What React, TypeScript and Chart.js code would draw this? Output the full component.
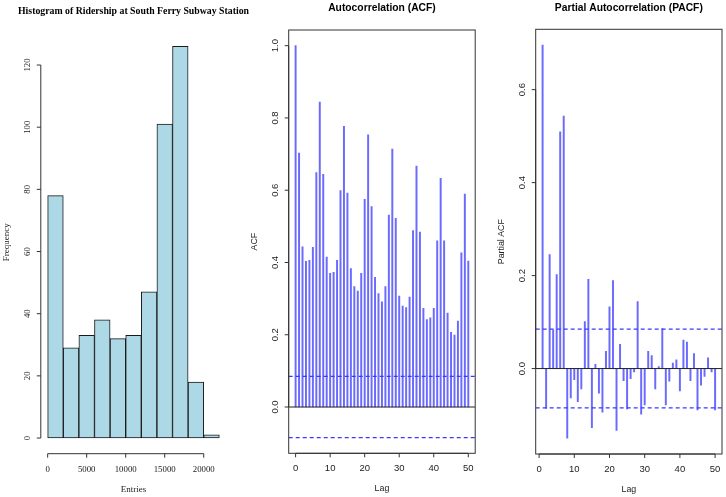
import { useEffect, useRef } from "react";
import { Chart, registerables } from "chart.js";

Chart.register(...registerables);

const W = 726;
const H = 497;

// ---------- Data ----------
const histBreaks = [0, 2000, 4000, 6000, 8000, 10000, 12000, 14000, 16000, 18000, 20000, 22000];
const histCounts = [78, 29, 33, 38, 32, 33, 47, 101, 126, 18, 1];
const histXTicks = [0, 5000, 10000, 15000, 20000];
const histYTicks = [0, 20, 40, 60, 80, 100, 120];

// ACF, lags 0..50
const acfValues = [
  1.0, 0.703, 0.443, 0.403, 0.406, 0.442, 0.649, 0.844, 0.644, 0.415,
  0.370, 0.373, 0.406, 0.599, 0.777, 0.592, 0.383, 0.333, 0.321, 0.370,
  0.575, 0.753, 0.555, 0.359, 0.314, 0.291, 0.333, 0.531, 0.714, 0.522,
  0.307, 0.279, 0.275, 0.304, 0.488, 0.667, 0.484, 0.273, 0.242, 0.247,
  0.273, 0.460, 0.633, 0.460, 0.260, 0.207, 0.199, 0.238, 0.427, 0.589,
  0.404,
];
const acfXTicks = [0, 10, 20, 30, 40, 50];
const acfYTicks = [0, 0.2, 0.4, 0.6, 0.8, 1.0];

// PACF, lags 1..50
const pacfValues = [
  0.696, -0.086, 0.245, 0.083, 0.202, 0.509, 0.543, -0.150, -0.063, -0.024,
  -0.071, -0.044, 0.101, 0.192, -0.127, 0.009, -0.053, -0.094, 0.037, 0.133,
  0.189, -0.133, 0.052, -0.026, -0.087, -0.022, -0.007, 0.144, -0.098, -0.078,
  0.037, 0.028, -0.044, 0.004, 0.086, -0.078, -0.027, 0.012, 0.019, -0.048,
  0.061, 0.057, -0.026, 0.032, -0.089, -0.036, -0.017, 0.023, -0.007, -0.089,
];
const pacfXTicks = [0, 10, 20, 30, 40, 50];
const pacfYTicks = [0, 0.2, 0.4, 0.6];

const confLimit = 0.0847;

// ---------- Panel specs ----------
type Panel = {
  area: { left: number; top: number; right: number; bottom: number };
  xRange: [number, number];
  yRange: [number, number];
  title: string;
  titleFont: string;
  titleY: number;
  tickFont: string;
  labelFont: string;
  xLabel: string;
  yLabel: string;
  xTicks: number[];
  yTicks: number[];
  yFmt: (v: number) => string;
  box: boolean;
  refLines: { value: number; dashed: boolean }[];
};

const SERIF = '"Liberation Serif", "Times New Roman", serif';
const SANS = '"Liberation Sans", Arial, sans-serif';

const histPanel: Panel = {
  area: { left: 40.8, top: 30.7, right: 226.2, bottom: 453.7 },
  xRange: [-880, 22880],
  yRange: [-5.04, 131.04],
  title: "Histogram of Ridership at South Ferry Subway Station",
  titleFont: `bold 9.8px ${SERIF}`,
  titleY: 11.5,
  tickFont: `8.8px ${SERIF}`,
  labelFont: `9px ${SERIF}`,
  xLabel: "Entries",
  yLabel: "Frequency",
  xTicks: histXTicks,
  yTicks: histYTicks,
  yFmt: (v) => String(v),
  box: false,
  refLines: [],
};

const acfPanel: Panel = {
  area: { left: 288.7, top: 30, right: 475.2, bottom: 453.3 },
  xRange: [-2, 52],
  yRange: [-0.1281, 1.0434],
  title: "Autocorrelation (ACF)",
  titleFont: `bold 10.3px ${SANS}`,
  titleY: 8.5,
  tickFont: `9.5px ${SANS}`,
  labelFont: `8.8px ${SANS}`,
  xLabel: "Lag",
  yLabel: "ACF",
  xTicks: acfXTicks,
  yTicks: acfYTicks,
  yFmt: (v) => v.toFixed(1),
  box: true,
  refLines: [
    { value: 0, dashed: false },
    { value: confLimit, dashed: true },
    { value: -confLimit, dashed: true },
  ],
};

const pacfPanel: Panel = {
  area: { left: 535.7, top: 29.3, right: 722, bottom: 454 },
  xRange: [-0.96, 51.96],
  yRange: [-0.1838, 0.7298],
  title: "Partial Autocorrelation (PACF)",
  titleFont: `bold 10.3px ${SANS}`,
  titleY: 8.5,
  tickFont: `9.5px ${SANS}`,
  labelFont: `8.8px ${SANS}`,
  xLabel: "Lag",
  yLabel: "Partial ACF",
  xTicks: pacfXTicks,
  yTicks: pacfYTicks,
  yFmt: (v) => v.toFixed(1),
  box: true,
  refLines: [
    { value: 0, dashed: false },
    { value: confLimit, dashed: true },
    { value: -confLimit, dashed: true },
  ],
};

function rAxesPlugin(p: Panel) {
  return {
    id: "rAxes",
    afterDatasetsDraw(chart: any) {
      const { ctx, chartArea: a } = chart;
      const xs = chart.scales.x;
      const ys = chart.scales.y;

      // reference lines (clipped to plot region)
      ctx.save();
      ctx.beginPath();
      ctx.rect(a.left, a.top, a.right - a.left, a.bottom - a.top);
      ctx.clip();
      for (const r of p.refLines) {
        const yy = ys.getPixelForValue(r.value);
        ctx.beginPath();
        ctx.setLineDash(r.dashed ? [4, 3] : []);
        ctx.strokeStyle = r.dashed ? "#3a3aff" : "#222222";
        ctx.lineWidth = r.dashed ? 1.2 : 1;
        ctx.moveTo(a.left, yy);
        ctx.lineTo(a.right, yy);
        ctx.stroke();
      }
      ctx.restore();

      ctx.save();
      ctx.setLineDash([]);
      ctx.strokeStyle = "#333333";
      ctx.lineWidth = 1;
      if (p.box) {
        ctx.strokeRect(a.left, a.top, a.right - a.left, a.bottom - a.top);
      }
      // x axis
      const tl = 4;
      ctx.beginPath();
      const xa = xs.getPixelForValue(p.xTicks[0]);
      const xb = xs.getPixelForValue(p.xTicks[p.xTicks.length - 1]);
      ctx.moveTo(xa, a.bottom);
      ctx.lineTo(xb, a.bottom);
      for (const t of p.xTicks) {
        const px = xs.getPixelForValue(t);
        ctx.moveTo(px, a.bottom);
        ctx.lineTo(px, a.bottom + tl);
      }
      // y axis
      const ya = ys.getPixelForValue(p.yTicks[0]);
      const yb = ys.getPixelForValue(p.yTicks[p.yTicks.length - 1]);
      ctx.moveTo(a.left, ya);
      ctx.lineTo(a.left, yb);
      for (const t of p.yTicks) {
        const py = ys.getPixelForValue(t);
        ctx.moveTo(a.left, py);
        ctx.lineTo(a.left - tl, py);
      }
      ctx.stroke();

      ctx.fillStyle = "#222222";
      ctx.textAlign = "center";
      ctx.textBaseline = "middle";
      ctx.font = p.tickFont;
      for (const t of p.xTicks) {
        ctx.fillText(String(t), xs.getPixelForValue(t), a.bottom + 15.5);
      }
      for (const t of p.yTicks) {
        ctx.save();
        ctx.translate(a.left - 13, ys.getPixelForValue(t));
        ctx.rotate(-Math.PI / 2);
        ctx.fillText(p.yFmt(t), 0, 0);
        ctx.restore();
      }
      ctx.font = p.labelFont;
      ctx.fillText(p.xLabel, (a.left + a.right) / 2, a.bottom + 35.5);
      ctx.save();
      ctx.translate(a.left - 34, (a.top + a.bottom) / 2);
      ctx.rotate(-Math.PI / 2);
      ctx.fillText(p.yLabel, 0, 0);
      ctx.restore();

      ctx.font = p.titleFont;
      ctx.fillStyle = "#000000";
      ctx.fillText(p.title, (a.left + a.right) / 2, p.titleY);
      ctx.restore();
    },
  };
}

function baseOptions(p: Panel) {
  return {
    responsive: false,
    animation: false as const,
    events: [] as any[],
    layout: {
      padding: {
        left: p.area.left,
        top: p.area.top,
        right: W - p.area.right,
        bottom: H - p.area.bottom,
      },
    },
    plugins: { legend: { display: false }, tooltip: { enabled: false }, title: { display: false } },
    scales: {
      x: { type: "linear" as const, display: false, min: p.xRange[0], max: p.xRange[1], offset: false, bounds: "data" as const },
      y: { type: "linear" as const, display: false, min: p.yRange[0], max: p.yRange[1], bounds: "data" as const },
    },
  };
}

function makeHist(canvas: HTMLCanvasElement) {
  const data = histCounts.map((c, i) => ({ x: (histBreaks[i] + histBreaks[i + 1]) / 2, y: c }));
  return new Chart(canvas, {
    type: "bar",
    data: {
      datasets: [
        {
          data,
          backgroundColor: "#ADD8E6",
          borderColor: "#1a1a1a",
          borderWidth: 1,
          borderSkipped: false,
          barPercentage: 1,
          categoryPercentage: 1,
          grouped: false,
        } as any,
      ],
    },
    options: baseOptions(histPanel) as any,
    plugins: [rAxesPlugin(histPanel)],
  });
}

function makeSpikes(canvas: HTMLCanvasElement, values: number[], firstLag: number, p: Panel) {
  const data = values.map((v, i) => ({ x: firstLag + i, y: v }));
  return new Chart(canvas, {
    type: "bar",
    data: {
      datasets: [
        {
          data,
          backgroundColor: "#6a6aff",
          borderWidth: 0,
          barThickness: 1.3,
          grouped: false,
        } as any,
      ],
    },
    options: baseOptions(p) as any,
    plugins: [rAxesPlugin(p)],
  });
}

export default function App() {
  const r1 = useRef<HTMLCanvasElement>(null);
  const r2 = useRef<HTMLCanvasElement>(null);
  const r3 = useRef<HTMLCanvasElement>(null);

  useEffect(() => {
    document.body.style.margin = "0";
    const charts: Chart[] = [];
    if (r1.current) charts.push(makeHist(r1.current));
    if (r2.current) charts.push(makeSpikes(r2.current, acfValues, 0, acfPanel));
    if (r3.current) charts.push(makeSpikes(r3.current, pacfValues, 1, pacfPanel));
    return () => charts.forEach((c) => c.destroy());
  }, []);

  const cs: React.CSSProperties = { position: "absolute", left: 0, top: 0, width: W, height: H };
  return (
    <div style={{ position: "fixed", left: 0, top: 0, width: W, height: H, background: "#ffffff" }}>
      <canvas ref={r1} width={W} height={H} style={cs} />
      <canvas ref={r2} width={W} height={H} style={cs} />
      <canvas ref={r3} width={W} height={H} style={cs} />
    </div>
  );
}
